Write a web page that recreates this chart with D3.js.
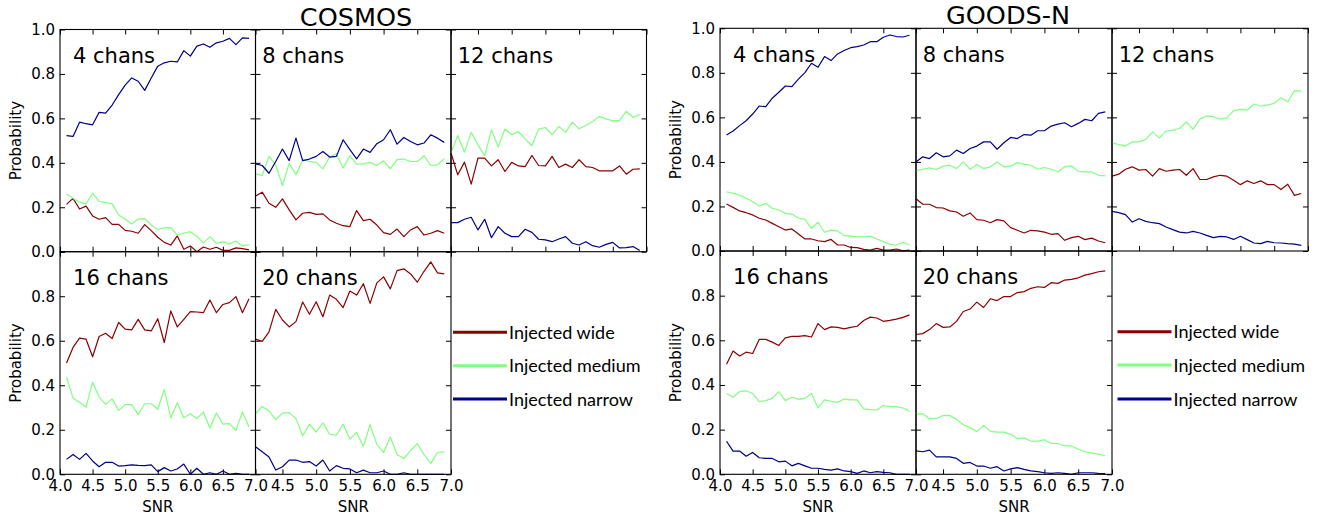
<!DOCTYPE html>
<html><head><meta charset="utf-8">
<script src="https://cdn.jsdelivr.net/npm/d3@7"></script>
<style>body{margin:0;background:#fff} svg{display:block}</style>
</head><body><svg id="c" width="1326" height="521"></svg>
<script>
const snr = [4.1,4.2,4.3,4.4,4.5,4.6,4.7,4.8,4.9,5.0,5.1,5.2,5.3,5.4,5.5,5.6,5.7,5.8,5.9,6.0,6.1,6.2,6.3,6.4,6.5,6.6,6.7,6.8,6.9];
const xTickValues = [4.0,4.5,5.0,5.5,6.0,6.5,7.0];
const yTickValues = [0.0,0.2,0.4,0.6,0.8,1.0];
const fieldTitles = ["COSMOS","GOODS-N"];
const channelLabels = ["4 chans","8 chans","12 chans","16 chans","20 chans"];
const seriesNames = ["Injected wide","Injected medium","Injected narrow"];
const seriesColors = ["#8b0000","#80ff80","#00008b"];

const cosmosWide4 = [0.213,0.240,0.192,0.205,0.161,0.146,0.153,0.123,0.123,0.096,0.092,0.083,0.122,0.095,0.065,0.042,0.030,0.071,0.011,0.026,0.000,0.021,0.011,0.020,0.006,0.006,0.017,0.014,0.008];
const cosmosMedium4 = [0.260,0.240,0.223,0.215,0.263,0.226,0.221,0.215,0.165,0.147,0.125,0.147,0.149,0.120,0.100,0.107,0.108,0.075,0.083,0.090,0.070,0.040,0.068,0.038,0.044,0.035,0.048,0.026,0.032];
const cosmosNarrow4 = [0.522,0.519,0.583,0.576,0.571,0.627,0.624,0.660,0.707,0.750,0.782,0.767,0.726,0.782,0.835,0.850,0.857,0.854,0.905,0.880,0.925,0.935,0.920,0.940,0.947,0.960,0.932,0.962,0.960];

const cosmosWide8 = [0.251,0.268,0.218,0.200,0.238,0.188,0.143,0.173,0.177,0.168,0.170,0.143,0.128,0.117,0.113,0.185,0.140,0.146,0.120,0.086,0.078,0.102,0.068,0.098,0.113,0.075,0.083,0.095,0.083];
const cosmosMedium8 = [0.350,0.343,0.429,0.391,0.298,0.398,0.346,0.414,0.406,0.402,0.373,0.426,0.441,0.376,0.432,0.394,0.395,0.402,0.388,0.409,0.373,0.414,0.417,0.406,0.406,0.432,0.388,0.391,0.418];
const cosmosNarrow8 = [0.395,0.388,0.353,0.406,0.462,0.410,0.511,0.410,0.417,0.429,0.451,0.426,0.429,0.504,0.459,0.418,0.462,0.447,0.486,0.504,0.549,0.484,0.514,0.496,0.481,0.489,0.526,0.511,0.492];

const cosmosWide12 = [0.444,0.346,0.403,0.304,0.421,0.421,0.386,0.414,0.361,0.402,0.386,0.383,0.433,0.388,0.386,0.429,0.379,0.394,0.379,0.414,0.383,0.379,0.364,0.364,0.364,0.386,0.349,0.371,0.373];
const cosmosMedium12 = [0.444,0.523,0.448,0.537,0.481,0.432,0.549,0.471,0.552,0.526,0.541,0.508,0.477,0.552,0.559,0.526,0.564,0.537,0.583,0.553,0.568,0.586,0.609,0.598,0.589,0.591,0.632,0.605,0.617];
const cosmosNarrow12 = [0.131,0.131,0.146,0.155,0.098,0.146,0.063,0.113,0.083,0.068,0.068,0.101,0.087,0.056,0.053,0.045,0.057,0.068,0.038,0.030,0.045,0.027,0.020,0.033,0.042,0.017,0.018,0.023,0.005];

const cosmosWide16 = [0.500,0.570,0.612,0.607,0.528,0.619,0.634,0.610,0.682,0.652,0.649,0.696,0.649,0.644,0.699,0.592,0.734,0.662,0.696,0.731,0.729,0.726,0.783,0.726,0.763,0.771,0.798,0.726,0.789];
const cosmosMedium16 = [0.436,0.342,0.324,0.302,0.414,0.347,0.314,0.339,0.287,0.313,0.313,0.268,0.317,0.317,0.292,0.381,0.253,0.321,0.254,0.272,0.250,0.280,0.208,0.275,0.225,0.228,0.198,0.280,0.213];
const cosmosNarrow16 = [0.067,0.089,0.067,0.094,0.060,0.034,0.054,0.054,0.037,0.039,0.042,0.040,0.039,0.042,0.012,0.030,0.015,0.024,0.046,0.000,0.027,0.000,0.007,0.000,0.015,0.000,0.004,0.000,0.000];

const cosmosWide20 = [0.607,0.597,0.640,0.741,0.693,0.662,0.686,0.774,0.719,0.775,0.708,0.805,0.786,0.749,0.823,0.805,0.856,0.768,0.860,0.887,0.833,0.915,0.923,0.900,0.863,0.912,0.954,0.905,0.900];
const cosmosMedium20 = [0.272,0.305,0.284,0.246,0.275,0.277,0.250,0.173,0.225,0.190,0.231,0.180,0.176,0.225,0.158,0.188,0.126,0.223,0.134,0.098,0.168,0.089,0.071,0.106,0.138,0.089,0.049,0.098,0.101];
const cosmosNarrow20 = [0.124,0.101,0.078,0.019,0.034,0.064,0.064,0.054,0.057,0.037,0.064,0.015,0.039,0.027,0.024,0.007,0.019,0.007,0.007,0.015,0.000,0.000,0.007,0.000,0.000,0.000,0.000,0.000,0.000];

const goodsWide4 = [0.211,0.196,0.180,0.172,0.162,0.147,0.139,0.124,0.109,0.094,0.099,0.076,0.054,0.054,0.046,0.042,0.052,0.027,0.027,0.016,0.015,0.007,0.004,0.012,0.004,0.004,0.009,0.001,0.004];
const goodsMedium4 = [0.266,0.259,0.251,0.237,0.222,0.202,0.214,0.192,0.184,0.169,0.166,0.147,0.142,0.102,0.129,0.084,0.094,0.090,0.069,0.067,0.064,0.064,0.067,0.054,0.042,0.030,0.027,0.039,0.027];
const goodsNarrow4 = [0.521,0.539,0.563,0.585,0.615,0.651,0.648,0.686,0.713,0.741,0.738,0.772,0.801,0.843,0.825,0.873,0.855,0.885,0.900,0.913,0.918,0.925,0.940,0.940,0.960,0.970,0.963,0.961,0.969];

const goodsWide8 = [0.235,0.210,0.210,0.195,0.193,0.180,0.175,0.156,0.171,0.141,0.138,0.127,0.141,0.135,0.105,0.093,0.081,0.093,0.090,0.085,0.075,0.078,0.048,0.060,0.066,0.051,0.058,0.045,0.037];
const goodsMedium8 = [0.360,0.367,0.373,0.366,0.381,0.385,0.370,0.400,0.367,0.388,0.370,0.378,0.400,0.378,0.382,0.397,0.390,0.385,0.367,0.375,0.367,0.355,0.378,0.382,0.358,0.355,0.355,0.340,0.337];
const goodsNarrow8 = [0.400,0.423,0.415,0.441,0.423,0.427,0.453,0.438,0.460,0.471,0.490,0.490,0.457,0.486,0.510,0.505,0.523,0.520,0.540,0.540,0.561,0.570,0.576,0.558,0.573,0.591,0.585,0.618,0.625];

const goodsWide12 = [0.336,0.345,0.367,0.378,0.363,0.366,0.336,0.370,0.358,0.363,0.366,0.340,0.370,0.321,0.321,0.333,0.340,0.336,0.318,0.298,0.315,0.303,0.315,0.298,0.298,0.276,0.300,0.250,0.258];
const goodsMedium12 = [0.486,0.478,0.471,0.490,0.490,0.501,0.535,0.508,0.538,0.543,0.550,0.580,0.546,0.592,0.607,0.603,0.592,0.598,0.630,0.636,0.633,0.660,0.651,0.655,0.663,0.688,0.670,0.720,0.718];
const goodsNarrow12 = [0.178,0.172,0.163,0.130,0.145,0.133,0.127,0.123,0.108,0.096,0.085,0.081,0.088,0.081,0.070,0.060,0.066,0.063,0.052,0.066,0.051,0.036,0.033,0.043,0.037,0.036,0.033,0.031,0.025];

const goodsWide16 = [0.493,0.552,0.530,0.547,0.541,0.604,0.604,0.592,0.577,0.611,0.618,0.618,0.621,0.615,0.675,0.648,0.660,0.658,0.651,0.658,0.663,0.689,0.704,0.700,0.685,0.689,0.695,0.703,0.714];
const goodsMedium16 = [0.362,0.345,0.370,0.374,0.362,0.325,0.330,0.340,0.370,0.330,0.345,0.337,0.340,0.362,0.297,0.333,0.327,0.322,0.337,0.333,0.333,0.293,0.290,0.288,0.308,0.303,0.303,0.297,0.283];
const goodsNarrow16 = [0.148,0.104,0.104,0.081,0.098,0.074,0.071,0.071,0.056,0.059,0.038,0.049,0.038,0.027,0.027,0.022,0.019,0.024,0.015,0.012,0.004,0.015,0.007,0.012,0.009,0.007,0.000,0.000,0.000];

const goodsWide20 = [0.626,0.630,0.648,0.675,0.658,0.660,0.685,0.729,0.740,0.771,0.747,0.786,0.778,0.796,0.796,0.814,0.818,0.833,0.840,0.837,0.858,0.855,0.870,0.873,0.880,0.892,0.899,0.907,0.911];
const goodsMedium20 = [0.271,0.271,0.249,0.249,0.263,0.263,0.246,0.222,0.209,0.192,0.219,0.192,0.189,0.189,0.179,0.160,0.163,0.149,0.148,0.155,0.138,0.138,0.127,0.127,0.112,0.101,0.096,0.090,0.083];
const goodsNarrow20 = [0.105,0.101,0.108,0.078,0.078,0.078,0.071,0.049,0.053,0.037,0.037,0.027,0.034,0.015,0.024,0.030,0.022,0.015,0.012,0.007,0.004,0.007,0.004,0.000,0.007,0.007,0.007,0.004,0.003];

// ---- assemble ----
const cosmosPanels = [
  [cosmosWide4, cosmosMedium4, cosmosNarrow4],
  [cosmosWide8, cosmosMedium8, cosmosNarrow8],
  [cosmosWide12, cosmosMedium12, cosmosNarrow12],
  [cosmosWide16, cosmosMedium16, cosmosNarrow16],
  [cosmosWide20, cosmosMedium20, cosmosNarrow20]
];
const goodsPanels = [
  [goodsWide4, goodsMedium4, goodsNarrow4],
  [goodsWide8, goodsMedium8, goodsNarrow8],
  [goodsWide12, goodsMedium12, goodsNarrow12],
  [goodsWide16, goodsMedium16, goodsNarrow16],
  [goodsWide20, goodsMedium20, goodsNarrow20]
];

const layouts = [
  {title: fieldTitles[0], panels: cosmosPanels, xEdges:[60,255.5,451,646.5], yEdges:[29.5,251.7,474.3],
   titleX:356, titleY:26, ylabelX:20.5, legendX:453, legendY:[332.3,365.7,399]},
  {title: fieldTitles[1], panels: goodsPanels, xEdges:[720,916,1112,1308], yEdges:[28.3,251,474.3],
   titleX:1008, titleY:23.5, ylabelX:680.5, legendX:1117.5, legendY:[331.7,365,399]}
];

const svg = d3.select("#c");
const TICK = 5;
const FONT = "DejaVu Sans";

function styleAxis(g){
  g.select(".domain").remove();
  g.selectAll(".tick line").attr("stroke","#000").attr("stroke-width",1);
  g.selectAll("text").attr("font-family",FONT).attr("font-size",15).attr("fill","#000");
}

layouts.forEach(L => {
  const root = svg.append("g");
  root.append("text").attr("x",L.titleX).attr("y",L.titleY).attr("text-anchor","middle")
    .attr("font-family",FONT).attr("font-size",25.5).attr("fill","#000").text(L.title);

  L.panels.forEach((series, p) => {
    const row = Math.floor(p/3), col = p%3;
    const x0 = L.xEdges[col], x1 = L.xEdges[col+1];
    const y0 = L.yEdges[row], y1 = L.yEdges[row+1];
    const xDom = col === 0 ? [4.0, 7.0] : [snr[0], 7.0];
    const x = d3.scaleLinear().domain(xDom).range([x0,x1]);
    const y = d3.scaleLinear().domain([0,1]).range([y1,y0]);
    const g = root.append("g");
    const xt = xTickValues.filter(v => v >= xDom[0]-1e-9);
    const bottomLabels = row === 1;
    const leftLabels = col === 0;
    const yt = row === 1 ? yTickValues.filter(v => v < 0.99) : yTickValues;

    g.append("g").attr("transform",`translate(0,${y1})`)
      .call(d3.axisBottom(x).tickValues(xt).tickSizeInner(-TICK).tickSizeOuter(0).tickPadding(6)
        .tickFormat(bottomLabels ? d3.format(".1f") : () => ""))
      .call(styleAxis);
    g.append("g").attr("transform",`translate(0,${y0})`)
      .call(d3.axisTop(x).tickValues(xt).tickSizeInner(-TICK).tickSizeOuter(0).tickFormat(() => ""))
      .call(styleAxis);
    g.append("g").attr("transform",`translate(${x0},0)`)
      .call(d3.axisLeft(y).tickValues(yTickValues).tickSizeInner(-TICK).tickSizeOuter(0).tickPadding(5)
        .tickFormat(v => (leftLabels && yt.includes(v)) ? d3.format(".1f")(v) : ""))
      .call(styleAxis);
    g.append("g").attr("transform",`translate(${x1},0)`)
      .call(d3.axisRight(y).tickValues(yTickValues).tickSizeInner(-TICK).tickSizeOuter(0).tickFormat(() => ""))
      .call(styleAxis);

    const line = d3.line().x((d,i) => x(snr[i])).y(d => y(d));
    series.forEach((vals, s) => {
      g.append("path").datum(vals).attr("d", line).attr("fill","none")
        .attr("stroke", seriesColors[s]).attr("stroke-width",1.2).attr("stroke-linejoin","round");
    });

    g.append("rect").attr("x",x0).attr("y",y0).attr("width",x1-x0).attr("height",y1-y0)
      .attr("fill","none").attr("stroke","#000").attr("stroke-width",1.1);

    g.append("text").attr("x", x(4.2)).attr("y", y(0.85))
      .attr("font-family",FONT).attr("font-size",21).attr("fill","#000").text(channelLabels[p]);

    if (bottomLabels) {
      g.append("text").attr("x",(x0+x1)/2).attr("y",y1+37.5).attr("text-anchor","middle")
        .attr("font-family",FONT).attr("font-size",15).attr("fill","#000").text("SNR");
    }
    if (leftLabels) {
      g.append("text").attr("transform",`translate(${L.ylabelX},${(y0+y1)/2}) rotate(-90)`)
        .attr("text-anchor","middle").attr("font-family",FONT).attr("font-size",15)
        .attr("fill","#000").text("Probability");
    }
  });

  // legend
  seriesNames.forEach((name, s) => {
    const ly = L.legendY[s];
    root.append("line").attr("x1",L.legendX).attr("x2",L.legendX+54).attr("y1",ly).attr("y2",ly)
      .attr("stroke",seriesColors[s]).attr("stroke-width",3);
    root.append("text").attr("x",L.legendX+56).attr("y",ly+6.5)
      .attr("font-family","Lato").attr("font-size",18).attr("fill","#000").text(name);
  });
});
</script></body></html>
